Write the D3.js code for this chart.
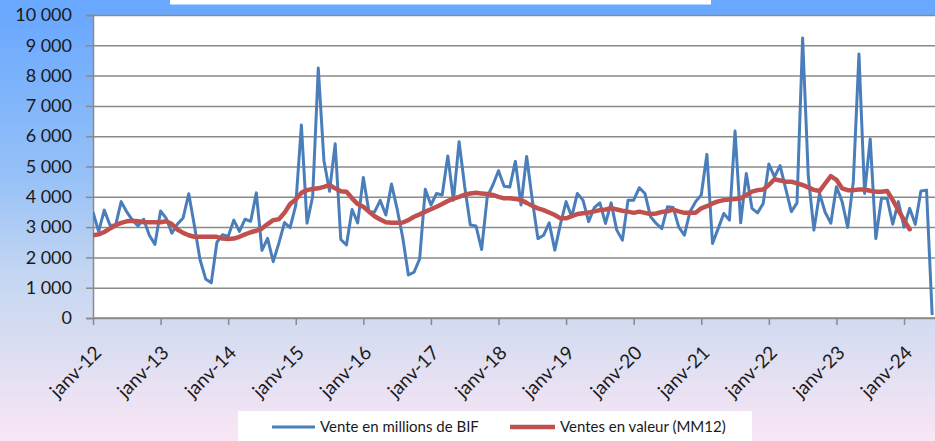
<!DOCTYPE html>
<html><head><meta charset="utf-8">
<script src="https://cdn.jsdelivr.net/npm/d3@7"></script>
<style>
html,body{margin:0;padding:0;background:#fff;}
svg{display:block;}
text{font-family:Lato,"Open Sans",sans-serif;fill:#1a1a1a;}
</style></head>
<body><svg id="chart" width="935" height="441"></svg>
<script>
// ---- data (monthly, janv-2012 .. juin-2024) ----
const startYear = 2012;
const monthCount = 150;
const salesBIF = [
3500,2850,3560,3070,3050,3840,3500,3230,3040,3260,2730,2430,
3530,3290,2800,3100,3300,4100,3050,1930,1290,1160,2500,2750,
2690,3230,2860,3260,3190,4130,2230,2630,1860,2470,3150,2980,
3720,6370,3130,4000,8250,5200,4180,5750,2590,2410,3580,3140,
4640,3500,3500,3880,3400,4420,3600,2650,1420,1510,1950,4250,
3730,4110,4060,5350,3890,5820,4330,3070,3040,2260,4000,4390,
4860,4350,4320,5170,3730,5330,3900,2620,2730,3140,2240,3100,
3840,3340,4110,3890,3180,3640,3800,3120,3800,2900,2570,3890,
3890,4300,4110,3340,3120,2950,3670,3650,3010,2730,3510,3840,
4060,5400,2460,2950,3450,3230,6170,3140,4770,3620,3470,3780,
5080,4660,5030,4260,3510,3800,9240,4700,2900,4110,3490,3130,
4330,3850,2990,4500,8710,4110,5910,2620,3950,3950,3100,3840,
3000,3620,3090,4190,4220,100
];
const salesMM12 = [
2730,2760,2840,2950,3060,3140,3190,3210,3190,3160,3160,3160,
3160,3190,3100,2920,2810,2730,2680,2680,2680,2680,2680,2620,
2610,2620,2680,2760,2830,2880,2950,3100,3230,3260,3470,3760,
3910,4130,4220,4260,4280,4330,4390,4280,4180,4170,3950,3760,
3670,3510,3360,3250,3160,3140,3140,3150,3230,3340,3420,3510,
3590,3670,3760,3860,3940,4000,4070,4110,4130,4110,4090,4060,
4000,3950,3950,3930,3890,3800,3700,3620,3560,3480,3400,3290,
3290,3360,3430,3460,3480,3520,3560,3580,3620,3580,3540,3510,
3470,3510,3470,3430,3450,3500,3520,3580,3520,3470,3470,3470,
3620,3690,3780,3850,3890,3910,3930,3950,4060,4170,4220,4240,
4390,4580,4540,4500,4500,4440,4390,4310,4230,4190,4440,4680,
4560,4280,4220,4220,4240,4240,4200,4170,4170,4190,3890,3560,
3230,2930
];
const yTicks = [0,1000,2000,3000,4000,5000,6000,7000,8000,9000,10000];
const xTickLabels = ["janv-12","janv-13","janv-14","janv-15","janv-16","janv-17","janv-18","janv-19","janv-20","janv-21","janv-22","janv-23","janv-24"];
const seriesNames = ["Vente en millions de BIF","Ventes en valeur (MM12)"];
const seriesColors = ["#4a7ebb","#c0504d"];

// ---- layout ----
const W = 935, H = 441;
const plot = {left:93, top:15, right:935, bottom:318};
const lastX = 93 + 149*5.632;

const svg = d3.select("#chart");
const defs = svg.append("defs");
const grad = defs.append("linearGradient").attr("id","bg").attr("x1",0).attr("y1",0).attr("x2",0).attr("y2",1);
[[0,"#66a6ff"],[0.4,"#96c1f7"],[0.62,"#c4d6f2"],[0.77,"#d8ddf1"],[1,"#f9e6f5"]].forEach(s=>grad.append("stop").attr("offset",s[0]).attr("stop-color",s[1]));
defs.append("clipPath").attr("id","clip").append("rect")
  .attr("x",plot.left).attr("y",0).attr("width",plot.right-plot.left).attr("height",plot.bottom+2);

svg.append("rect").attr("width",W).attr("height",H).attr("fill","url(#bg)");
svg.append("rect").attr("x",0).attr("y",0).attr("width",W).attr("height",14).attr("fill","#68a8ff");
svg.append("rect").attr("x",170).attr("y",0).attr("width",541).attr("height",4.5).attr("fill","#fff");
svg.append("rect").attr("x",plot.left).attr("y",plot.top).attr("width",plot.right-plot.left).attr("height",plot.bottom-plot.top).attr("fill","#fff");

const months = d3.range(monthCount);
const x = d3.scalePoint().domain(months).range([plot.left, lastX]);
const y = d3.scaleLinear().domain([0,10000]).range([plot.bottom, plot.top]);
const fmt = d3.formatLocale({decimal:",",thousands:"\u00a0",grouping:[3],currency:["","€"]}).format(",d");

// gridlines
svg.append("g").attr("transform",`translate(${plot.left},0)`)
  .call(d3.axisLeft(y).tickValues(yTicks).tickSize(-(plot.right-plot.left)).tickFormat(""))
  .call(g=>g.select(".domain").remove())
  .call(g=>g.selectAll("line").attr("stroke","#8a8a8a").attr("stroke-width",1.5));

// y axis
const yAxis = svg.append("g").attr("transform",`translate(${plot.left},0)`)
  .call(d3.axisLeft(y).tickValues(yTicks).tickSize(7).tickPadding(14).tickFormat(fmt));
yAxis.select(".domain").attr("stroke","#8a8a8a").attr("stroke-width",1.5);
yAxis.selectAll(".tick line").attr("stroke","#8a8a8a").attr("stroke-width",1.5);
yAxis.selectAll("text").style("font-size","18px").attr("fill","#1a1a1a");

// x axis
const janIdx = months.filter(i=>i%12===0);
const xAxis = svg.append("g").attr("transform",`translate(0,${plot.bottom})`)
  .call(d3.axisBottom(x).tickValues(janIdx).tickSize(7).tickFormat((d,i)=>xTickLabels[i]));
xAxis.select(".domain").attr("stroke","#8a8a8a").attr("stroke-width",1.5).attr("d",`M${plot.left},0H${plot.right}`);
xAxis.selectAll(".tick line").attr("stroke","#8a8a8a").attr("stroke-width",1.5);
xAxis.selectAll("text").style("font-size","19px").attr("text-anchor","end")
  .attr("dy",0).attr("y",0)
  .attr("transform","translate(9,36) rotate(-45)");

// lines
const line = d3.line().x((d,i)=>x(i)).y(d=>y(d));
const gLines = svg.append("g").attr("clip-path","url(#clip)");
gLines.append("path").datum(salesBIF).attr("d",line).attr("fill","none")
  .attr("stroke",seriesColors[0]).attr("stroke-width",3).attr("stroke-linejoin","round");
gLines.append("path").datum(salesMM12).attr("d",line).attr("fill","none")
  .attr("stroke",seriesColors[1]).attr("stroke-width",4.5).attr("stroke-linejoin","round").attr("stroke-linecap","round");

// legend
const lg = svg.append("g");
lg.append("rect").attr("x",238).attr("y",411).attr("width",514).attr("height",30).attr("fill","#fff");
const items = [{x0:272,x1:315,tx:320},{x0:510,x1:555,tx:560}];
items.forEach((it,i)=>{
  lg.append("line").attr("x1",it.x0).attr("x2",it.x1).attr("y1",427).attr("y2",427)
    .attr("stroke",seriesColors[i]).attr("stroke-width",i?4.5:3);
  lg.append("text").attr("x",it.tx).attr("y",432).style("font-size","15px").text(seriesNames[i]);
});
</script></body></html>
